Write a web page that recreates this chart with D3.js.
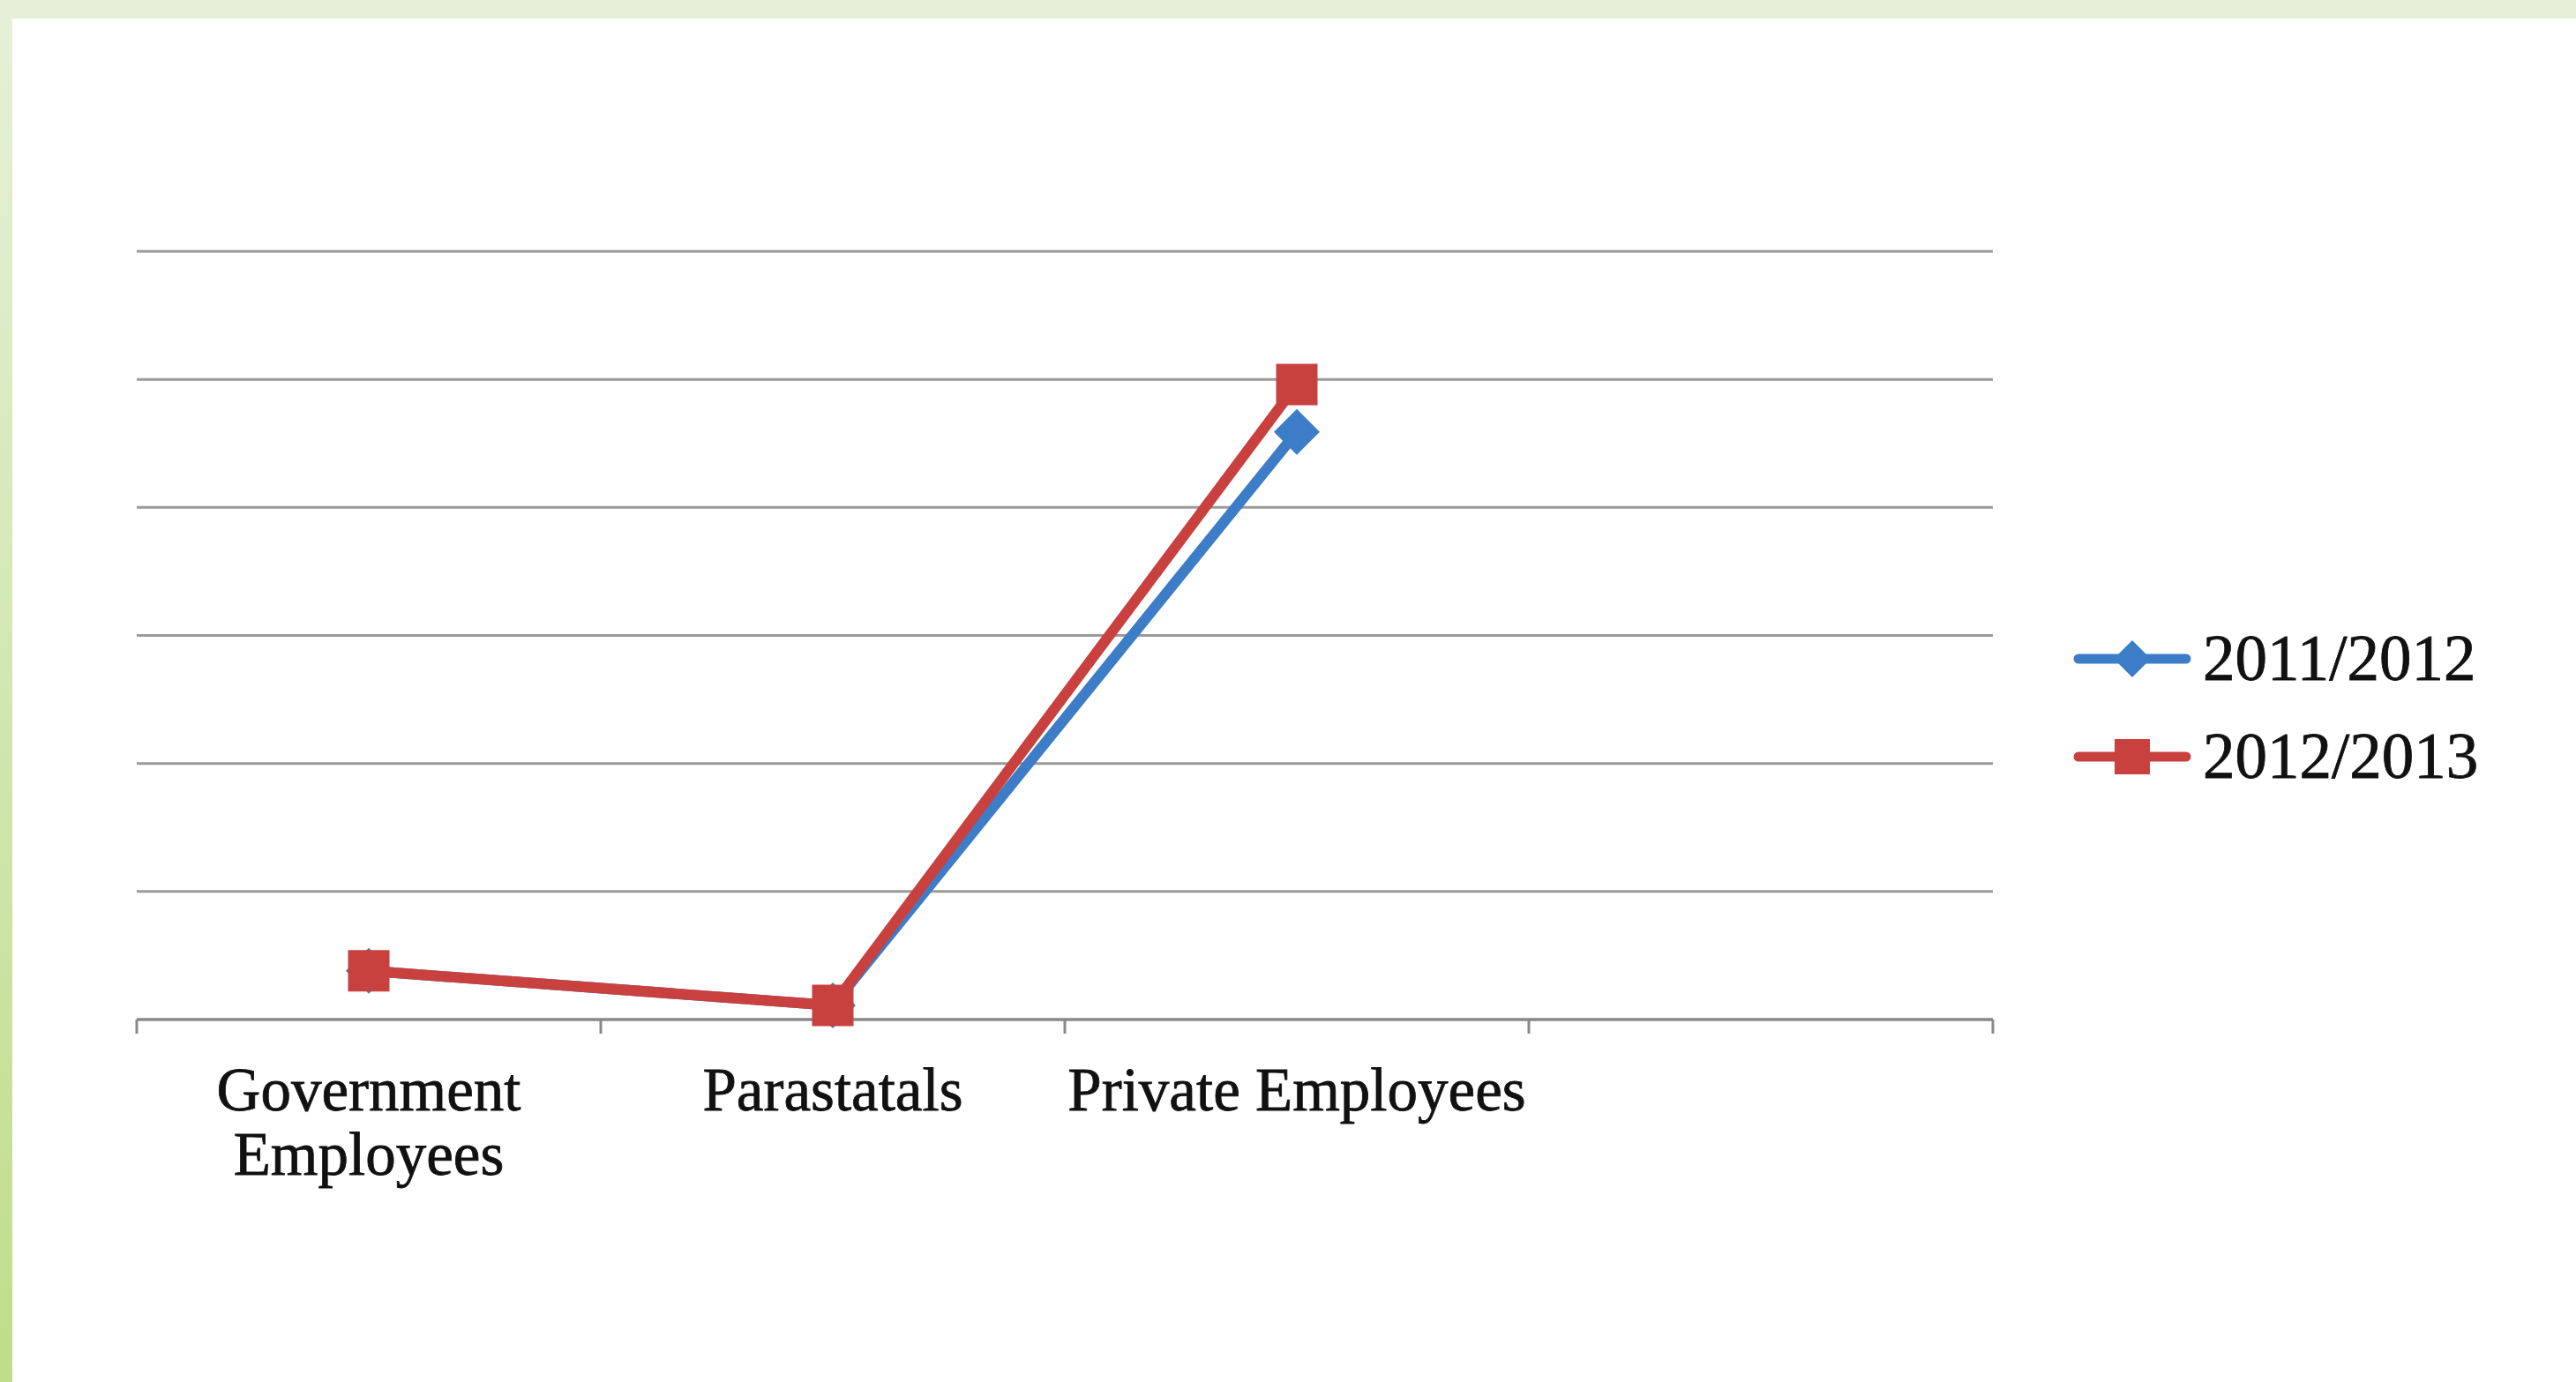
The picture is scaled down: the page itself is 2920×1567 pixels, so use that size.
<!DOCTYPE html>
<html>
<head>
<meta charset="utf-8">
<script src="https://cdn.jsdelivr.net/npm/d3@7"></script>
<style>
  html, body { margin: 0; padding: 0; background: #ffffff; }
  svg { display: block; }
</style>
</head>
<body>
<svg id="chart" width="2920" height="1567"></svg>
<script>
// ---- data ----
const categories = ["Government Employees", "Parastatals", "Private Employees", ""];
const tickLabels = [["Government", "Employees"], ["Parastatals"], ["Private Employees"], []];
const seriesNames = ["2011/2012", "2012/2013"];
const values2011 = [3.8, 1.1, 45.9];
const values2012 = [3.8, 1.1, 49.6];
const yTicks = [0, 10, 20, 30, 40, 50, 60];

// ---- layout ----
const W = 2920, H = 1567;
const plot = { left: 155, right: 2259, top: 285, bottom: 1156 };
const colors = ["#3d7cc6", "#c9413f"];
const font = "'Liberation Serif', 'Times New Roman', serif";

const svg = d3.select("#chart");

// background frame
const defs = svg.append("defs");
const grad = defs.append("linearGradient").attr("id", "leftGrad")
  .attr("x1", 0).attr("y1", 0).attr("x2", 0).attr("y2", 1);
grad.append("stop").attr("offset", "0%").attr("stop-color", "#e6f0d8");
grad.append("stop").attr("offset", "100%").attr("stop-color", "#bfdd8a");

svg.append("rect").attr("x", 0).attr("y", 0).attr("width", W).attr("height", H).attr("fill", "#ffffff");
svg.append("rect").attr("x", 0).attr("y", 0).attr("width", W).attr("height", 21).attr("fill", "#e6f0d8");
svg.append("rect").attr("x", 0).attr("y", 0).attr("width", 14).attr("height", H).attr("fill", "url(#leftGrad)");

// scales
const x = d3.scaleBand().domain(categories).range([plot.left, plot.right]).paddingInner(0).paddingOuter(0);
const y = d3.scaleLinear().domain([0, 60]).range([plot.bottom, plot.top]);

// gridlines
svg.append("g").selectAll("line").data(yTicks.filter(d => d > 0)).join("line")
  .attr("x1", plot.left).attr("x2", plot.right)
  .attr("y1", d => y(d)).attr("y2", d => y(d))
  .attr("stroke", "#9a9a9a").attr("stroke-width", 3);

// x axis with ticks at band boundaries
const boundaries = categories.map(c => x(c)).concat([plot.right]);
const axis = svg.append("g");
axis.append("line")
  .attr("x1", plot.left).attr("x2", plot.right)
  .attr("y1", y(0)).attr("y2", y(0))
  .attr("stroke", "#888888").attr("stroke-width", 3.5);
axis.selectAll("line.tick").data(boundaries).join("line").attr("class", "tick")
  .attr("x1", d => d).attr("x2", d => d)
  .attr("y1", y(0)).attr("y2", y(0) + 16)
  .attr("stroke", "#888888").attr("stroke-width", 3);

// category labels
const labelG = svg.append("g")
  .attr("font-family", font).attr("font-size", 69).attr("fill", "#111111")
  .attr("stroke", "#111111").attr("stroke-width", 0.8)
  .attr("text-anchor", "middle");
categories.forEach((c, i) => {
  const cx = x(c) + x.bandwidth() / 2;
  const t = labelG.append("text").attr("x", cx).attr("y", 1259);
  tickLabels[i].forEach((line, j) => {
    t.append("tspan").attr("x", cx).attr("dy", j === 0 ? 0 : 73).text(line);
  });
});

// series
const series = [
  { name: seriesNames[0], values: values2011, color: colors[0], marker: "diamond" },
  { name: seriesNames[1], values: values2012, color: colors[1], marker: "square" }
];
const pointX = i => x(categories[i]) + x.bandwidth() / 2;
const line = d3.line().x((d, i) => pointX(i)).y(d => y(d));

function markerPath(type, s) {
  const h = s / 2;
  if (type === "square") {
    return `M${-h},${-h}L${h},${-h}L${h},${h}L${-h},${h}Z`;
  }
  return `M0,${-h}L${h},0L0,${h}L${-h},0Z`;
}

series.forEach(sr => {
  const g = svg.append("g");
  g.append("path").datum(sr.values)
    .attr("d", line)
    .attr("fill", "none").attr("stroke", sr.color)
    .attr("stroke-width", 12).attr("stroke-linejoin", "round").attr("stroke-linecap", "round");
  g.selectAll("path.mk").data(sr.values).join("path").attr("class", "mk")
    .attr("transform", (d, i) => `translate(${pointX(i)},${y(d)})`)
    .attr("d", markerPath(sr.marker, sr.marker === "square" ? 47 : 52))
    .attr("fill", sr.color);
});

// legend
const legend = svg.append("g");
const legendRows = [747, 858];
series.forEach((sr, i) => {
  const ly = legendRows[i];
  legend.append("line")
    .attr("x1", 2356).attr("x2", 2478).attr("y1", ly).attr("y2", ly)
    .attr("stroke", sr.color).attr("stroke-width", 11).attr("stroke-linecap", "round");
  legend.append("path")
    .attr("transform", `translate(2417,${ly})`)
    .attr("d", markerPath(sr.marker, sr.marker === "square" ? 40 : 42))
    .attr("fill", sr.color);
  legend.append("text")
    .attr("x", 2497).attr("y", ly + 24)
    .attr("font-family", font).attr("font-size", 73).attr("fill", "#111111")
    .attr("stroke", "#111111").attr("stroke-width", 0.8)
    .text(sr.name);
});
</script>
</body>
</html>
